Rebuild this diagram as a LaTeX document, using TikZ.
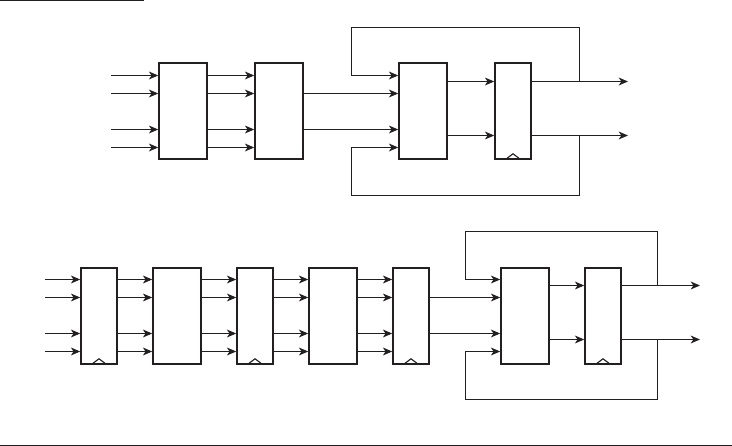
\documentclass[tikz,border=0pt]{standalone}
\usetikzlibrary{arrows.meta}
\definecolor{ink}{HTML}{231F20}
\tikzset{
  wire/.style={draw=ink, line width=0.8pt},
  logicbox/.style={draw=ink, line width=1.4pt, minimum width=1.19cm, minimum height=2.39cm},
  regbox/.style={draw=ink, line width=1.4pt, minimum width=0.89cm, minimum height=2.39cm},
}
\begin{document}
\begin{tikzpicture}[x=0.025cm,y=-0.025cm,>={Stealth[length=6.6pt,width=5.6pt,inset=1.9pt]}]
\useasboundingbox (0,0) rectangle (732,446);
\coordinate (ruleA) at (0,0.5);
\coordinate (ruleB) at (144,0.5);
\coordinate (ruleC) at (0,445.2);
\coordinate (ruleD) at (732,445.2);
\draw[ink, line width=1pt] (ruleA) -- (ruleB);
\draw[ink, line width=0.8pt] (ruleC) -- (ruleD);

% upper pipeline
\node[logicbox] (a1) at (183,111) {};
\node[logicbox] (a2) at (279,111) {};
\node[logicbox] (a3) at (423,111) {};
\node[regbox] (a4) at (513,111) {};
\coordinate (ai1) at (111,75.5);
\coordinate (ai2) at (111,93.5);
\coordinate (ai3) at (111,129.5);
\coordinate (ai4) at (111,147.5);
\coordinate (ao1) at (628,81.5);
\coordinate (ao2) at (628,135.5);
\coordinate (at1) at (579.5,81.5);
\coordinate (at2) at (579.5,135.5);
\coordinate (ac1) at (351.5,27.5);
\coordinate (ac2) at (351.5,195.5);
\draw[wire,->] (ai1) -- (a1.west |- ai1);
\draw[wire,->] (ai2) -- (a1.west |- ai2);
\draw[wire,->] (ai3) -- (a1.west |- ai3);
\draw[wire,->] (ai4) -- (a1.west |- ai4);
\draw[wire,->] (a1.east |- ai1) -- (a2.west |- ai1);
\draw[wire,->] (a1.east |- ai2) -- (a2.west |- ai2);
\draw[wire,->] (a1.east |- ai3) -- (a2.west |- ai3);
\draw[wire,->] (a1.east |- ai4) -- (a2.west |- ai4);
\draw[wire,->] (a2.east |- ai2) -- (a3.west |- ai2);
\draw[wire,->] (a2.east |- ai3) -- (a3.west |- ai3);
\draw[wire,->] (a3.east |- ao1) -- (a4.west |- ao1);
\draw[wire,->] (a3.east |- ao2) -- (a4.west |- ao2);
\draw[wire,->] (a4.east |- ao1) -- (ao1);
\draw[wire,->] (a4.east |- ao2) -- (ao2);
\draw[wire,->] (at1) |- (ac1) |- (a3.west |- ai1);
\draw[wire,->] (at2) |- (ac2) |- (a3.west |- ai4);
\draw[wire] (a4.south) ++(-6,-1.5) -- ++(6,-4.5) -- ++(6,4.5);

% lower pipeline
\node[regbox] (b1) at (99,316) {};
\node[logicbox] (b2) at (177,316) {};
\node[regbox] (b3) at (255,316) {};
\node[logicbox] (b4) at (333,316) {};
\node[regbox] (b5) at (411,316) {};
\node[logicbox] (b6) at (525,316) {};
\node[regbox] (b7) at (603,316) {};
\coordinate (bi1) at (45,279.5);
\coordinate (bi2) at (45,297.5);
\coordinate (bi3) at (45,333.5);
\coordinate (bi4) at (45,351.5);
\coordinate (bo1) at (700,285.5);
\coordinate (bo2) at (700,339.5);
\coordinate (bt1) at (657.5,285.5);
\coordinate (bt2) at (657.5,339.5);
\coordinate (bc1) at (465.5,231.5);
\coordinate (bc2) at (465.5,399.5);
\draw[wire,->] (bi1) -- (b1.west |- bi1);
\draw[wire,->] (bi2) -- (b1.west |- bi2);
\draw[wire,->] (bi3) -- (b1.west |- bi3);
\draw[wire,->] (bi4) -- (b1.west |- bi4);
\draw[wire,->] (b1.east |- bi1) -- (b2.west |- bi1);
\draw[wire,->] (b1.east |- bi2) -- (b2.west |- bi2);
\draw[wire,->] (b1.east |- bi3) -- (b2.west |- bi3);
\draw[wire,->] (b1.east |- bi4) -- (b2.west |- bi4);
\draw[wire,->] (b2.east |- bi1) -- (b3.west |- bi1);
\draw[wire,->] (b2.east |- bi2) -- (b3.west |- bi2);
\draw[wire,->] (b2.east |- bi3) -- (b3.west |- bi3);
\draw[wire,->] (b2.east |- bi4) -- (b3.west |- bi4);
\draw[wire,->] (b3.east |- bi1) -- (b4.west |- bi1);
\draw[wire,->] (b3.east |- bi2) -- (b4.west |- bi2);
\draw[wire,->] (b3.east |- bi3) -- (b4.west |- bi3);
\draw[wire,->] (b3.east |- bi4) -- (b4.west |- bi4);
\draw[wire,->] (b4.east |- bi1) -- (b5.west |- bi1);
\draw[wire,->] (b4.east |- bi2) -- (b5.west |- bi2);
\draw[wire,->] (b4.east |- bi3) -- (b5.west |- bi3);
\draw[wire,->] (b4.east |- bi4) -- (b5.west |- bi4);
\draw[wire,->] (b5.east |- bi2) -- (b6.west |- bi2);
\draw[wire,->] (b5.east |- bi3) -- (b6.west |- bi3);
\draw[wire,->] (b6.east |- bo1) -- (b7.west |- bo1);
\draw[wire,->] (b6.east |- bo2) -- (b7.west |- bo2);
\draw[wire,->] (b7.east |- bo1) -- (bo1);
\draw[wire,->] (b7.east |- bo2) -- (bo2);
\draw[wire,->] (bt1) |- (bc1) |- (b6.west |- bi1);
\draw[wire,->] (bt2) |- (bc2) |- (b6.west |- bi4);
\draw[wire] (b1.south) ++(-6,-1.5) -- ++(6,-4.5) -- ++(6,4.5);
\draw[wire] (b3.south) ++(-6,-1.5) -- ++(6,-4.5) -- ++(6,4.5);
\draw[wire] (b5.south) ++(-6,-1.5) -- ++(6,-4.5) -- ++(6,4.5);
\draw[wire] (b7.south) ++(-6,-1.5) -- ++(6,-4.5) -- ++(6,4.5);
\end{tikzpicture}
\end{document}
